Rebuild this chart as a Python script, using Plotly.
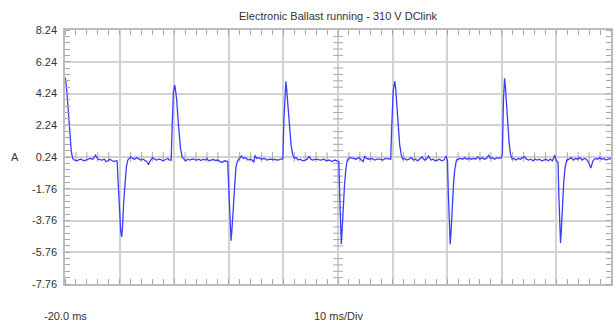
import numpy as np
import plotly.graph_objects as go

# Ballast current trace: time (ms) and current (A)
time_ms = [
    -20.0, -19.85, -19.6, -19.35, -19.1, -18.85, -18.6, -18.3, -17.8, -17.4, -17.0, -16.6, -16.2,
    -15.8, -15.4, -14.9, -14.4, -14.0, -13.6, -13.2, -12.8, -12.5, -12.1, -11.8, -11.4, -11.0,
    -10.7, -10.45,
    -10.25, -10.0, -9.8, -9.62, -9.45, -9.25, -9.0, -8.75, -8.5, -8.2, -7.95, -7.6, -7.3, -6.9,
    -6.5, -6.1, -5.7, -5.4, -5.0, -4.7, -4.4, -3.95, -3.6, -3.2, -2.8, -2.45, -2.1, -1.75, -1.4,
    -1.15, -0.9, -0.55,
    -0.35, -0.15, 0.1, 0.25, 0.45, 0.7, 0.95, 1.15, 1.45, 1.75, 2.1, 2.5, 2.9, 3.3, 3.7, 4.1,
    4.5, 4.9, 5.3, 5.7, 6.0, 6.3, 6.7, 7.2, 7.6, 8.0, 8.4, 8.8, 9.2, 9.55, 9.8,
    10.0, 10.2, 10.42, 10.6, 10.8, 11.05, 11.3, 11.6, 11.9, 12.3, 12.7, 13.1, 13.5, 13.9, 14.3,
    14.6, 14.8, 15.1, 15.5, 16.0, 16.5, 17.0, 17.5, 18.0, 18.5, 19.0, 19.5, 19.9,
    20.1, 20.3, 20.45, 20.6, 20.85, 21.1, 21.4, 21.7, 22.0, 22.3, 22.7, 23.1, 23.5, 24.0, 24.4,
    24.7, 25.0, 25.4, 25.9, 26.4, 26.9, 27.4, 27.9, 28.4, 28.9, 29.4, 29.9, 30.15,
    30.3, 30.45, 30.6, 30.75, 30.95, 31.2, 31.45, 31.7, 32.0, 32.4, 32.8, 33.3, 33.8, 34.2, 34.6,
    34.9, 35.2, 35.7, 36.2, 36.7, 37.2, 37.7, 38.2, 38.7, 39.2, 39.65,
    39.85, 40.1, 40.4, 40.55, 40.8, 41.05, 41.3, 41.6, 41.9, 42.2, 42.6, 43.0, 43.4, 43.8, 44.2,
    44.6, 45.0, 45.4, 45.8, 46.2, 46.6, 47.0, 47.4, 47.8, 48.2, 48.6, 49.0, 49.4, 49.8, 50.05,
    50.2, 50.4, 50.55, 50.7, 50.9, 51.15, 51.4, 51.7, 52.0, 52.4, 52.8, 53.2, 53.6, 54.0, 54.4,
    54.8, 55.2, 55.6, 56.0, 56.4, 56.8, 57.2, 57.6, 57.9, 58.3, 58.7, 59.1, 59.5, 59.9, 60.1,
    60.3, 60.5, 60.65, 60.85, 61.1, 61.35, 61.6, 61.9, 62.2, 62.6, 63.0, 63.4, 63.8, 64.2, 64.5,
    64.9, 65.3, 65.7, 66.1, 66.5, 66.9, 67.3, 67.7, 68.1, 68.5, 68.9, 69.3, 69.7, 70.0, 70.3,
    70.45, 70.6, 70.75, 70.9, 71.1, 71.35, 71.6, 71.9, 72.3, 72.7, 73.1, 73.5, 73.9, 74.3, 74.7,
    75.1, 75.5, 75.9, 76.3, 76.7, 77.1, 77.5, 77.9, 78.3, 78.7, 79.1, 79.5, 79.8, 80.0,
]
current_a = [
    5.25, 5.0, 4.1, 2.9, 1.6, 0.6, 0.15, 0.05, 0.0, 0.08, 0.1, 0.0, 0.05,
    0.1, 0.15, 0.1, 0.35, 0.1, 0.08, 0.05, 0.1, -0.05, 0.0, 0.1, 0.02, -0.05,
    0.0, 0.0,
    -1.5, -3.3, -4.4, -4.8, -4.1, -2.6, -1.3, -0.35, 0.05, 0.15, 0.25, 0.15, 0.1, 0.2,
    0.1, 0.05, 0.1, 0.05, -0.05, -0.25, 0.0, 0.2, 0.1, 0.05, 0.1, 0.08, 0.0, 0.05, 0.12,
    0.15, 0.05, 0.05,
    2.4, 4.3, 4.78, 4.5, 3.9, 2.6, 1.5, 0.8, 0.25, 0.12, 0.0, 0.1, 0.05, 0.12, 0.08, 0.05,
    0.1, 0.02, 0.1, 0.05, 0.15, 0.0, 0.05, 0.08, 0.02, 0.05, -0.05, -0.1, 0.0, -0.05, -0.05,
    -1.8, -3.8, -5.03, -4.2, -2.9, -1.4, -0.4, 0.0, 0.15, 0.3, 0.15, 0.2, 0.05, 0.1, 0.05,
    -0.1, 0.35, 0.15, 0.2, 0.1, 0.15, 0.05, 0.1, 0.08, 0.1, 0.05, 0.1, 0.12,
    2.6, 4.6, 5.0, 4.5, 3.2, 2.0, 1.0, 0.4, 0.15, 0.2, 0.05, 0.1, 0.0, 0.05, 0.12,
    0.3, 0.1, 0.05, 0.1, 0.08, 0.05, 0.1, 0.0, 0.05, -0.05, 0.05, 0.0, -0.05,
    -2.0, -4.0, -5.24, -4.4, -3.0, -1.5, -0.5, 0.05, 0.15, 0.2, 0.15, 0.1, 0.2, 0.05, -0.05,
    0.3, 0.15, 0.1, 0.15, 0.05, 0.1, 0.1, 0.05, 0.15, 0.1, 0.1,
    2.2, 4.4, 5.0, 4.6, 3.4, 2.0, 1.0, 0.35, 0.1, 0.15, 0.05, 0.1, 0.2, 0.05, 0.1,
    0.0, 0.1, 0.25, 0.05, 0.1, 0.3, 0.05, 0.1, 0.0, 0.05, 0.1, 0.0, 0.05, 0.3, 0.0,
    -2.0, -4.3, -5.26, -4.5, -3.0, -1.5, -0.5, 0.05, 0.1, 0.15, 0.1, 0.2, 0.1, 0.15, 0.1,
    0.15, 0.1, 0.25, 0.1, 0.2, 0.1, 0.15, 0.35, 0.15, 0.2, 0.1, 0.2, 0.15, 0.2, 0.4,
    3.8, 5.2, 4.7, 3.6, 2.3, 1.1, 0.4, 0.1, 0.15, 0.05, 0.15, 0.1, 0.2, 0.25, 0.1,
    0.05, 0.1, 0.0, 0.1, 0.05, 0.1, 0.0, 0.05, 0.1, 0.0, 0.1, 0.0, 0.35, 0.0, -0.1,
    -2.2, -4.3, -5.18, -4.4, -2.8, -1.3, -0.4, 0.05, 0.1, 0.2, 0.05, 0.15, 0.1, 0.2, 0.05,
    0.15, 0.1, -0.1, -0.45, 0.0, 0.15, 0.1, 0.2, 0.1, 0.15, 0.05, 0.1, 0.15, 0.1,
]

# Scope grid: 10 ms/div horizontally, 2 A/div vertically
x_range = [-20, 80]
y_range = [-7.76, 8.24]
x_major = [-20, -10, 0, 10, 20, 30, 40, 50, 60, 70, 80]
y_major = [-7.76, -5.76, -3.76, -1.76, 0.24, 2.24, 4.24, 6.24, 8.24]
y_labels = ["-7.76", "-5.76", "-3.76", "-1.76", "0.24", "2.24", "4.24", "6.24", "8.24"]
x_center = 30
y_center = 0.24

grid_color = "#d2d2d2"
tick_color = "#a8a8a8"
text_color = "#333333"
font_family = "Liberation Sans, Arial, sans-serif"

fig = go.Figure()

# Subdivision ticks along the center cross
x_minor = [v for v in np.arange(-20, 80.001, 2) if abs(v / 10 - round(v / 10)) > 1e-6]
y_minor = [v for v in np.arange(-7.76, 8.2401, 0.4)
           if abs((v - 0.24) / 2 - round((v - 0.24) / 2)) > 1e-6]
fig.add_trace(go.Scatter(
    x=x_minor, y=[y_center] * len(x_minor), mode="markers",
    marker=dict(symbol="line-ns", size=7, line=dict(color=tick_color, width=1)),
    hoverinfo="skip", showlegend=False,
))
fig.add_trace(go.Scatter(
    x=[x_center] * len(y_minor), y=y_minor, mode="markers",
    marker=dict(symbol="line-ew", size=7, line=dict(color=tick_color, width=1)),
    hoverinfo="skip", showlegend=False,
))

fig.add_trace(go.Scatter(
    x=time_ms, y=current_a, mode="lines",
    line=dict(color="#3c3cff", width=1.3),
    showlegend=False,
))

fig.update_layout(
    width=616, height=324,
    margin=dict(l=65, r=3, t=30, b=40),
    paper_bgcolor="white", plot_bgcolor="white",
    font=dict(family=font_family, size=11, color=text_color),
    showlegend=False,
    annotations=[
        dict(text="Electronic Ballast running - 310 V DClink", xref="x", yref="paper",
             x=x_center, y=1.055, showarrow=False, xanchor="center", yanchor="middle",
             font=dict(size=11, color=text_color)),
        dict(text="A", xref="paper", yref="y", x=-0.092, y=y_center, showarrow=False,
             xanchor="center", yanchor="middle", font=dict(size=11, color=text_color)),
        dict(text="-20.0 ms", xref="x", yref="paper", x=x_range[0], y=-0.126,
             showarrow=False, xanchor="center", yanchor="middle",
             font=dict(size=11, color=text_color)),
        dict(text="10 ms/Div", xref="x", yref="paper", x=x_center, y=-0.126,
             showarrow=False, xanchor="center", yanchor="middle",
             font=dict(size=11, color=text_color)),
    ],
)

fig.update_xaxes(
    range=x_range, tickvals=x_major, showticklabels=False, ticks="",
    showgrid=True, gridcolor=grid_color, gridwidth=1.5,
    showline=True, linecolor="#bcbcbc", linewidth=1.5, mirror="allticks",
    zeroline=False, fixedrange=True,
    minor=dict(tick0=-20, dtick=2, ticks="inside", ticklen=5, tickcolor=tick_color,
               tickwidth=1, showgrid=False),
)
fig.update_yaxes(
    range=y_range, tickvals=y_major, ticktext=y_labels, ticks="",
    showgrid=True, gridcolor=grid_color, gridwidth=1.5,
    showline=True, linecolor="#bcbcbc", linewidth=1.5, mirror="allticks",
    zeroline=False, fixedrange=True, ticklabelstandoff=4,
    minor=dict(tick0=0.24, dtick=0.4, ticks="inside", ticklen=5, tickcolor=tick_color,
               tickwidth=1, showgrid=False),
)

fig.write_html("out.html")
